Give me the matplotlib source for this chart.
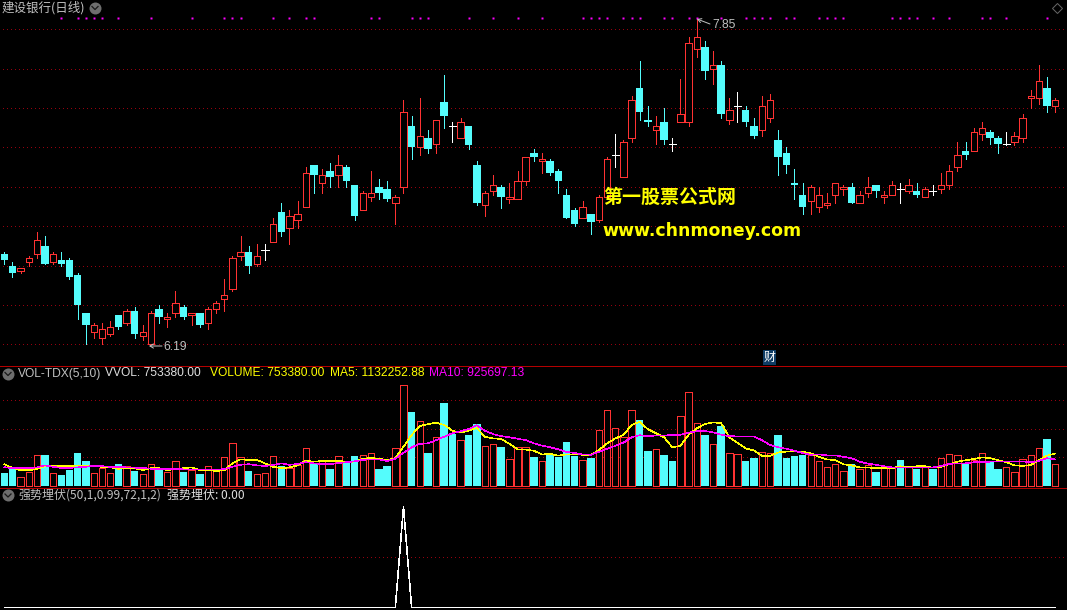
import numpy as np
import matplotlib
matplotlib.use('Agg')
import matplotlib.pyplot as plt

# daily prices in fen (1/100 yuan)
open_fen = [665,659,656,661,665,669,661,662,662,654,
            635,625,622,624,634,630,636,623,619,637,
            632,635,638,634,635,630,637,642,647,664,
            666,660,667,671,686,678,682,689,710,701,
            707,705,709,700,687,694,699,698,691,699,
            730,719,724,721,742,730,724,730,710,690,
            697,699,693,693,702,716,712,712,707,695,
            687,683,685,682,694,715,704,724,749,733,
            728,732,721,732,732,769,770,759,761,733,
            740,738,730,728,734,723,716,701,695,692,
            689,690,695,698,699,691,696,700,694,695,
            698,697,697,694,697,698,700,709,717,717,
            726,727,724,721,722,724,744,744,749,740]
close_fen = [662,655,658,663,672,660,665,660,653,639,
             629,629,627,628,628,636,624,625,635,633,
             633,640,633,635,629,637,640,644,663,666,
             659,664,667,680,676,684,685,706,705,705,
             704,710,702,684,696,696,696,693,694,737,
             719,725,718,733,735,730,732,720,691,696,
             700,694,694,702,714,714,713,706,702,683,
             680,689,681,694,713,715,722,743,737,732,
             730,723,721,736,772,775,758,761,736,738,
             740,732,725,740,743,714,710,700,689,699,
             695,691,701,699,691,695,699,697,695,700,
             698,700,695,698,697,700,707,715,715,727,
             729,724,721,721,725,734,745,753,740,743]
high_fen = [666,661,658,664,676,674,666,666,663,655,
            635,630,630,631,634,637,638,629,636,639,
            635,646,639,635,635,638,641,652,664,674,
            669,670,670,683,691,687,692,709,710,708,
            711,715,710,700,697,707,703,702,695,743,
            735,744,728,733,756,732,734,730,712,697,
            705,700,701,707,714,718,716,713,708,698,
            688,692,685,695,714,726,723,745,763,740,
            735,739,724,754,775,785,773,768,763,744,
            747,740,734,745,746,728,719,708,701,700,
            699,696,701,700,701,697,704,700,697,702,
            701,703,701,699,700,706,710,722,722,729,
            732,728,725,727,727,736,748,761,755,744]
low_fen = [660,653,655,659,663,660,660,659,652,632,
           619,622,619,623,627,629,622,621,619,630,
           628,633,632,629,628,627,635,636,646,662,
           655,659,662,671,674,670,678,689,696,696,
           699,699,699,682,687,692,693,692,680,696,
           713,715,716,716,729,722,724,718,690,684,
           695,688,691,693,700,712,706,705,696,683,
           679,683,675,681,694,709,704,722,733,730,
           721,721,717,732,730,765,754,751,734,731,
           732,730,724,725,732,705,706,693,685,685,
           686,688,691,695,691,691,694,694,691,695,
           691,696,694,694,695,696,698,707,713,717,
           723,721,716,720,720,722,739,741,737,737]

# volume in units of 10000
volume = [45,59,31,49,107,108,44,38,56,115,
          87,44,62,44,77,69,52,41,76,59,
          49,86,49,56,42,69,56,100,149,100,
          52,41,44,104,69,62,72,131,79,86,
          59,104,83,105,107,114,59,70,131,351,
          258,226,115,170,290,181,159,178,216,138,
          145,136,93,135,135,101,86,108,101,154,
          105,90,98,194,264,201,170,264,230,122,
          128,108,87,243,327,219,178,145,209,114,
          110,87,98,117,114,178,98,105,108,107,
          86,65,76,51,77,58,72,49,62,65,
          91,65,59,65,59,97,110,107,77,90,
          114,84,59,65,48,93,107,131,164,75.3]
ma5 = [76,63,55,55,59,70,69,69,69,72,
       70,69,67,65,60,62,62,56,62,62,
       55,60,62,65,55,56,52,55,79,93,
       91,91,79,67,62,65,72,88,85,87,
       87,88,84,85,95,98,95,91,97,137,
       178,209,216,221,213,193,186,193,202,172,
       166,164,147,128,127,123,110,112,106,110,
       110,109,108,126,149,166,178,213,224,198,
       184,170,135,140,179,201,216,222,219,170,
       151,131,124,105,105,117,120,120,120,114,
       102,93,90,76,72,65,65,62,62,62,
       69,65,69,69,64,67,76,85,90,94,
       100,97,90,83,72,70,73,90,106,113.2]
ma10 = [66,62,62,62,65,72,67,63,63,65,
        67,71,69,67,67,65,64,63,60,59,
        59,60,58,58,57,57,57,59,67,74,
        76,72,70,73,79,74,77,83,79,76,
        76,80,83,86,91,93,93,87,95,116,
        135,147,149,160,172,184,191,199,212,193,
        181,174,170,165,160,149,141,135,128,119,
        115,110,109,119,130,140,151,170,177,174,
        176,176,178,179,186,191,192,187,179,174,
        173,173,173,160,143,135,130,123,115,109,
        110,107,107,102,97,85,78,74,69,65,
        65,64,64,64,65,70,77,79,79,83,
        83,85,86,86,86,86,83,87,97,92.6]

# days where the top row of magenta flags is lit
flag_days = [7,9,10,11,12,14,18,23,27,28,29,33,35,37,38,45,46,50,51,52,57,60,63,66,
             71,72,73,74,76,77,78,81,82,84,85,88,91,92,93,94,96,97,100,101,102,103,
             109,110,111,112,114,116,120,121,123,128]
flag_price = 7.85
# indicator only fires on one day
signal_day = 49
signal = np.zeros(len(open_fen))
signal[signal_day] = 1

price_grid = [6.19,6.39,6.59,6.79,6.99,7.19,7.39,7.59,7.79]
vol_grid = [100,200,300]
sig_grid = [0.5]

RED = '#FF3232'
CYAN = '#54FCFC'
GRID = '#96000F'
SEP = '#B40000'
TXT = '#C0C0C0'
CJK = ['Noto Sans CJK SC', 'Liberation Sans']
LAT = ['Liberation Sans', 'Noto Sans CJK SC']

W, H = 1067, 610
PX = 72 / 100.0  # one pixel in points

o = np.array(open_fen) / 100
c = np.array(close_fen) / 100
hi = np.array(high_fen) / 100
lo = np.array(low_fen) / 100
vol = np.array(volume, dtype=float)
days = np.arange(len(o))

up = c > o
down = c < o
doji = c == o
prev = np.r_[c[0], c[:-1]]
vol_up = up | (doji & (c >= prev))


def panel(top, bottom):
    ax = fig.add_axes([0, 1 - bottom / H, 1, (bottom - top) / H])
    ax.set_facecolor('black')
    ax.set_xlim(-4.33 / 8.146, (W - 4.33) / 8.146)
    ax.axis('off')
    return ax


def dotted(ax, levels):
    for lv in levels:
        ax.axhline(lv, color=GRID, lw=PX, ls=(1.5, (1, 3)), antialiased=False, zorder=1)


fig = plt.figure(figsize=(W / 100, H / 100), dpi=100, facecolor='black')

# candles
ax1 = panel(0, 365.5)
ax1.set_ylim(6.19 - 21.2 * 0.00508, 6.19 + 344.3 * 0.00508)
dotted(ax1, price_grid)
ax1.vlines(days[up], lo[up], hi[up], color=RED, lw=PX, antialiased=False, zorder=2)
ax1.vlines(days[down], lo[down], hi[down], color=CYAN, lw=PX, antialiased=False, zorder=2)
ax1.vlines(days[doji], lo[doji], hi[doji], color='white', lw=PX, antialiased=False, zorder=2)
ax1.bar(days[up], (c - o)[up], bottom=o[up], width=6.4 / 8.146, facecolor='black', edgecolor=RED,
        linewidth=PX, antialiased=False, zorder=3)
ax1.bar(days[down], (o - c)[down], bottom=c[down], width=7.5 / 8.146, color=CYAN, linewidth=0,
        antialiased=False, zorder=3)
ax1.hlines(c[doji], days[doji] - 0.43, days[doji] + 0.43, color='white', lw=PX, antialiased=False, zorder=3)
ax1.plot(flag_days, [flag_price] * len(flag_days), ls='none', marker='s', ms=2.2 * PX, mfc='#FF00FF',
         mec='none', antialiased=False, zorder=4)

# volume
ax2 = panel(365.5, 487)
ax2.set_ylim(-1 / 0.2866, 120.5 / 0.2866)
dotted(ax2, vol_grid)
ax2.bar(days[vol_up], vol[vol_up], width=6.4 / 8.146, facecolor='black', edgecolor=RED, linewidth=PX,
        antialiased=False, zorder=2)
ax2.bar(days[~vol_up], vol[~vol_up], width=7.5 / 8.146, color=CYAN, linewidth=0, antialiased=False, zorder=2)
ax2.plot(days, ma5, color='#FFFF00', lw=0.6 * PX, antialiased=False, zorder=3)
ax2.plot(days, ma10, color='#FF00FF', lw=0.6 * PX, antialiased=False, zorder=4)

# indicator
ax3 = panel(487, 609)
ax3.set_ylim(-1.5 / 100.5, 120.5 / 100.5)
dotted(ax3, sig_grid)
ax3.plot(days, signal, color='white', lw=0.6 * PX, antialiased=False, zorder=3)

# text and separators go on a full pixel overlay
top = fig.add_axes([0, 0, 1, 1], zorder=10)
top.set_xlim(0, W)
top.set_ylim(H, 0)
top.axis('off')
top.patch.set_alpha(0)
for y in [365.5, 487.5, 609.5]:
    top.plot([0, W], [y, y], color=SEP, lw=PX, antialiased=False)


def label(x, y, s, color=TXT, size=12, family=LAT, **kw):
    top.text(x, y, s, color=color, fontsize=size * PX, family=family, ha='left', va='center', **kw)


def round_icon(x, y):
    top.plot([x], [y], marker='o', ms=12 * PX, mfc='#6E6E6E', mec='none')
    top.plot([x - 3, x, x + 3], [y - 1, y + 2, y - 1], color='#1A1A1A', lw=1.3 * PX)


label(2, 7.5, '建设银行(日线)', size=12.5, family=CJK)
round_icon(95, 7.5)
top.plot([1057], [8.3], marker='D', ms=7.5 * PX, mfc='none', mec='#666666', mew=PX)

round_icon(8, 373.5)
label(18, 373.5, 'VOL-TDX(5,10)')
label(105, 373.5, 'VVOL: 753380.00', color='#E0E0E0')
label(210, 373.5, 'VOLUME: 753380.00', color='#FFFF00')
label(330, 373.5, 'MA5: 1132252.88', color='#FFFF00')
label(429, 373.5, 'MA10: 925697.13', color='#FF00FF')

round_icon(8, 495)
label(18, 495, '强势埋伏(50,1,0.99,72,1,2)', size=12, family=CJK)
label(167, 495, '强势埋伏: 0.00', color='#E0E0E0', size=12, family=CJK)

# high / low markers
top.annotate('', xy=(697, 19), xytext=(710, 24),
             arrowprops=dict(arrowstyle='->,head_length=0.25,head_width=0.15', color=TXT, lw=PX, shrinkA=0, shrinkB=0))
label(712, 25, '7.85')
top.annotate('', xy=(149, 346), xytext=(162, 346),
             arrowprops=dict(arrowstyle='->,head_length=0.25,head_width=0.15', color=TXT, lw=PX, shrinkA=0, shrinkB=0))
label(163, 347.5, '6.19')

# watermark
label(603, 197, '第一股票公式网', color='#FFFF00', size=19, family=CJK, fontweight='bold')
label(602, 231, 'www.chnmoney.com', color='#FFFF00', size=17.4, family=['DejaVu Sans'], fontweight='bold')

top.text(769.5, 357.5, '财', color='white', fontsize=12 * PX, family=CJK, ha='center', va='center',
         bbox=dict(boxstyle='square,pad=0.05', fc='#0F3C64', ec='none'))

fig.savefig('out.png', dpi=100, facecolor='black')
